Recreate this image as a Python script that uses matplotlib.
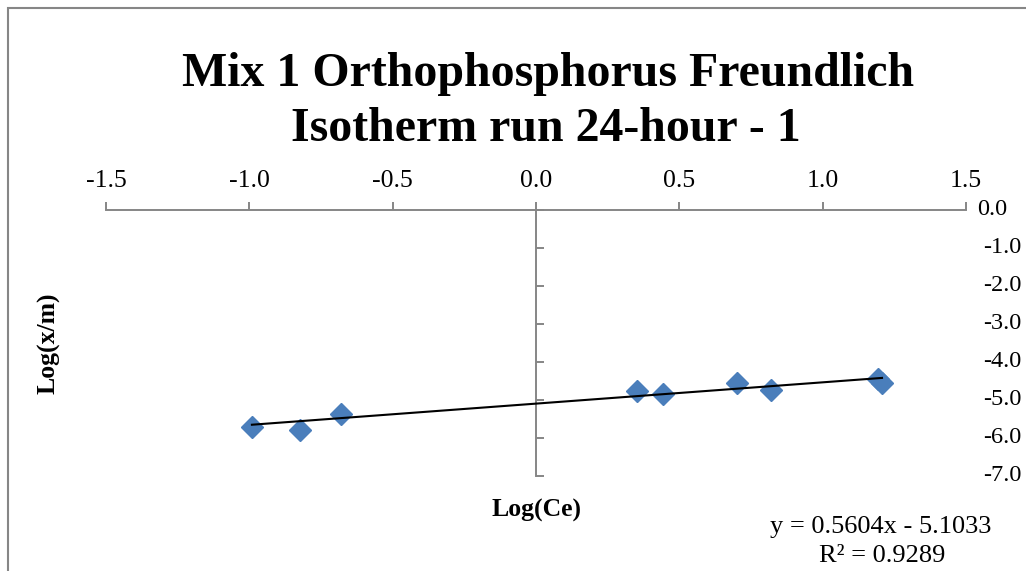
"""
Freundlich isotherm plot, Excel look
"""
import matplotlib
matplotlib.use('Agg')
import matplotlib.pyplot as plt
import matplotlib.transforms as mtransforms
from matplotlib.patches import Rectangle
import numpy as np

# data
log_ce = [-0.991, -0.823, -0.681, 0.353, 0.444, 0.702, 0.819, 1.193, 1.207]
log_xm = [-5.72, -5.80, -5.38, -4.76, -4.85, -4.57, -4.74, -4.46, -4.55]

# trendline as shown in the chart
slope = 0.5604
intercept = -5.1033
r2 = 0.9289

x_ticks = [-1.5, -1.0, -0.5, 0.0, 0.5, 1.0, 1.5]
y_ticks = [0.0, -1.0, -2.0, -3.0, -4.0, -5.0, -6.0, -7.0]

title_lines = ['Mix 1 Orthophosphorus Freundlich', 'Isotherm run 24-hour - 1']

plt.rcParams['font.family'] = ['Liberation Serif', 'DejaVu Serif']

W, H = 1026, 571
fig = plt.figure(figsize=(W / 100, H / 100), dpi=100)

# axes box in pixels: x -1.5..1.5 -> 106..966, y 0..-7 -> 209.7..475.7
ax = fig.add_axes([106 / W, 1 - 475.7 / H, 860 / W, 266 / H])
ax.set_xlim(-1.5, 1.5)
ax.set_ylim(-7, 0)

axis_grey = '#868686'

ax.spines['right'].set_visible(False)
ax.spines['bottom'].set_visible(False)
ax.spines['left'].set_position(('data', 0))
for s in ['left', 'top']:
    ax.spines[s].set_color(axis_grey)
    ax.spines[s].set_linewidth(1.4)

ax.xaxis.tick_top()
ax.set_xticks(x_ticks)
ax.set_xticklabels(['%.1f' % v for v in x_ticks])
ax.tick_params(axis='x', direction='out', length=6, width=1.4, color=axis_grey,
               pad=7, labelsize=18.5)

ax.set_yticks(y_ticks)
ax.tick_params(axis='y', direction='in', length=6, width=1.4, color=axis_grey,
               labelleft=False)

# y tick labels sit at the right edge, Excel style
trans = mtransforms.blended_transform_factory(fig.transFigure, ax.transData)
for v in y_ticks:
    x_px = 977 if v == 0 else 983
    ax.text(x_px / W, v, '%.1f' % v, transform=trans, ha='left', va='center',
            fontsize=17.5, clip_on=False)

# points
ax.plot(log_ce, log_xm, linestyle='none', marker='D', markersize=11,
        color='#4A7EBB', markeredgecolor='#4A7EBB', zorder=3)

# trendline
xs = np.array([min(log_ce), max(log_ce)])
ax.plot(xs, slope * xs + intercept, color='black', linewidth=1.5, zorder=4)

# title
fig.text(548 / W, 1 - 86 / H, title_lines[0], ha='center', va='baseline',
         fontsize=34.5, fontweight='bold')
fig.text(546 / W, 1 - 141 / H, title_lines[1], ha='center', va='baseline',
         fontsize=34.5, fontweight='bold')

# axis titles
fig.text(537 / W, 1 - 517 / H, 'Log(Ce)', ha='center', va='baseline',
         fontsize=18.5, fontweight='bold')
fig.text(49 / W, 1 - 343 / H, 'Log(x/m)', ha='center', va='center',
         rotation=90, fontsize=18.5, fontweight='bold')

# trendline label
fig.text(881 / W, 1 - 533 / H, 'y = %.4fx - %.4f' % (slope, -intercept),
         ha='center', va='baseline', fontsize=19)
fig.text(882 / W, 1 - 562 / H, 'R² = %.4f' % r2, ha='center', va='baseline',
         fontsize=19)

# chart area border (cropped on right/bottom)
fig.add_artist(Rectangle((8 / W, -0.5), 2, 1 - 8 / H + 0.5, transform=fig.transFigure,
                         fill=False, edgecolor=axis_grey, linewidth=1.5))

fig.savefig('out.png', dpi=100)
